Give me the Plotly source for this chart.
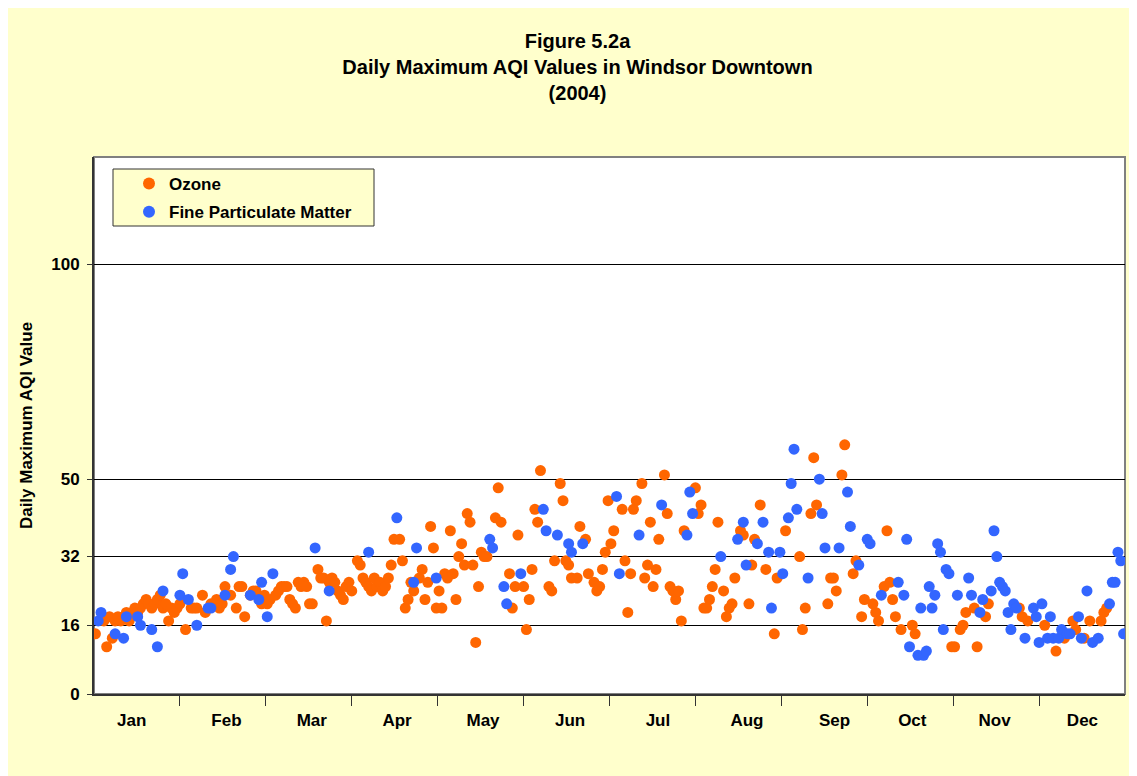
import plotly.graph_objects as go

# ---- data: (day of month, daily maximum AQI) ----
month_names = ["Jan", "Feb", "Mar", "Apr", "May", "Jun", "Jul", "Aug", "Sep", "Oct", "Nov", "Dec"]
month_start_day = [1, 32, 61, 92, 122, 153, 183, 214, 245, 275, 306, 336]  # 2004 (leap year)
# day-of-year where each month label sits
month_label_day = [13.9, 47.5, 77.8, 108.1, 138.6, 169.5, 200.7, 232.3, 263.4, 291.0, 320.2, 351.4]

oz_jan = [(1, 14), (4, 17), (5, 11), (6, 18), (7, 13), (8, 17), (9, 18), (10, 17), (11, 18), (12, 19), (13, 17),
          (14, 19), (15, 20), (16, 19), (17, 20), (18, 21), (19, 22), (20, 21), (21, 20), (22, 21), (23, 22),
          (24, 23), (25, 20), (26, 21), (27, 17), (28, 20), (29, 19), (30, 20), (31, 21)]
oz_feb = [(2, 15), (4, 20), (5, 20), (6, 20), (8, 23), (9, 19), (11, 21), (13, 22), (14, 20), (15, 21), (16, 25),
          (18, 23), (20, 20), (21, 25), (22, 25), (23, 18), (25, 23), (26, 24), (27, 24), (29, 21)]
oz_mar = [(1, 23), (2, 21), (3, 22), (5, 23), (6, 24), (7, 25), (8, 25), (9, 25), (10, 22), (11, 21), (12, 20),
          (13, 26), (14, 25), (15, 26), (16, 25), (17, 21), (18, 21), (20, 29), (21, 27), (22, 27), (23, 17),
          (24, 26), (25, 27), (26, 26), (27, 24), (28, 23), (29, 22), (30, 25), (31, 26)]
oz_apr = [(1, 24), (3, 31), (4, 30), (5, 27), (6, 26), (7, 25), (8, 24), (9, 27), (10, 25), (11, 26), (12, 24),
          (13, 25), (14, 27), (15, 30), (16, 36), (18, 36), (19, 31), (20, 20), (21, 22), (22, 26), (23, 24),
          (25, 27), (26, 29), (27, 22), (28, 26), (29, 39), (30, 34)]
oz_may = [(1, 20), (2, 24), (3, 20), (4, 28), (5, 27), (6, 38), (7, 28), (8, 22), (9, 32), (10, 35), (11, 30),
          (12, 42), (13, 40), (14, 30), (15, 12), (16, 25), (17, 33), (18, 32), (19, 32), (22, 41), (23, 48),
          (24, 40), (27, 28), (28, 20), (29, 25), (30, 37)]
oz_jun = [(1, 25), (2, 15), (3, 22), (4, 29), (5, 43), (6, 40), (7, 52), (10, 25), (11, 24), (12, 31), (14, 49),
          (15, 45), (16, 31), (17, 30), (18, 27), (20, 27), (21, 39), (23, 36), (24, 28), (26, 26), (27, 24),
          (28, 25), (29, 29), (30, 33)]
oz_jul = [(1, 45), (2, 35), (3, 38), (6, 43), (7, 31), (8, 19), (9, 28), (10, 43), (11, 45), (13, 49), (14, 27),
          (15, 30), (16, 40), (17, 25), (18, 29), (19, 36), (21, 51), (22, 42), (23, 25), (24, 24), (25, 22),
          (26, 24), (27, 17), (28, 38)]
oz_aug = [(1, 48), (2, 42), (3, 44), (4, 20), (5, 20), (6, 22), (7, 25), (8, 29), (9, 40), (11, 24), (12, 18),
          (13, 20), (14, 21), (15, 27), (17, 38), (18, 37), (20, 21), (21, 30), (22, 36), (24, 44), (26, 29),
          (29, 14), (30, 27)]
oz_sep = [(2, 38), (7, 32), (8, 15), (9, 20), (11, 42), (12, 55), (13, 44), (17, 21), (18, 27), (19, 27),
          (20, 24), (22, 51), (23, 58), (26, 28), (27, 31), (29, 18), (30, 22)]
oz_oct = [(3, 21), (4, 19), (5, 17), (7, 25), (8, 38), (9, 26), (10, 22), (11, 18), (13, 15), (17, 16), (18, 14),
          (31, 11)]
oz_nov = [(1, 11), (3, 15), (4, 16), (5, 19), (8, 20), (9, 11), (12, 18), (13, 21), (24, 20), (25, 18), (27, 17)]
oz_dec = [(3, 16), (7, 10), (10, 13), (13, 17), (14, 15), (17, 13), (19, 17), (23, 17), (24, 19), (25, 20)]

pm_jan = [(2, 17), (3, 19), (8, 14), (11, 13), (12, 18), (16, 18), (17, 16), (21, 15), (23, 11), (25, 24), (31, 23)]
pm_feb = [(1, 28), (3, 22), (6, 16), (10, 20), (11, 20), (16, 23), (18, 29), (19, 32), (25, 23), (28, 22), (29, 26)]
pm_mar = [(2, 18), (4, 28), (19, 34), (24, 24)]
pm_apr = [(7, 33), (17, 41), (23, 26), (24, 34)]
pm_may = [(1, 27), (20, 36), (21, 34), (25, 25), (26, 21), (31, 28)]
pm_jun = [(8, 43), (9, 38), (13, 37), (17, 35), (18, 33), (22, 35)]
pm_jul = [(4, 46), (5, 28), (12, 37), (20, 44), (29, 37), (30, 47), (31, 42)]
pm_aug = [(10, 32), (16, 36), (18, 40), (19, 30), (23, 35), (25, 40), (27, 33), (28, 20), (31, 33)]
pm_sep = [(1, 28), (3, 41), (4, 49), (5, 57), (6, 43), (10, 27), (14, 50), (15, 42), (16, 34), (21, 34),
          (24, 47), (25, 39), (28, 30)]
pm_oct = [(1, 36), (2, 35), (6, 23), (12, 26), (14, 23), (15, 36), (16, 11), (19, 9), (20, 20), (21, 9), (22, 10),
          (23, 25), (24, 20), (25, 23), (26, 35), (27, 33), (28, 15), (29, 29), (30, 28)]
pm_nov = [(2, 23), (6, 27), (7, 23), (10, 19), (11, 22), (14, 24), (15, 38), (16, 32), (17, 26), (18, 25),
          (19, 24), (20, 19), (21, 15), (22, 21), (23, 20), (26, 13), (29, 20), (30, 18)]
pm_dec = [(1, 12), (2, 21), (4, 13), (5, 18), (6, 13), (8, 13), (9, 15), (11, 14), (12, 14), (15, 18), (16, 13),
          (18, 24), (20, 12), (22, 13), (26, 21), (27, 26), (28, 26), (29, 33), (30, 31), (31, 14)]

ozone_months = [oz_jan, oz_feb, oz_mar, oz_apr, oz_may, oz_jun, oz_jul, oz_aug, oz_sep, oz_oct, oz_nov, oz_dec]
pm_months = [pm_jan, pm_feb, pm_mar, pm_apr, pm_may, pm_jun, pm_jul, pm_aug, pm_sep, pm_oct, pm_nov, pm_dec]

y_ticks = [0, 16, 32, 50, 100]


def to_year(months):
    xs, ys = [], []
    for start, pts in zip(month_start_day, months):
        for dom, v in pts:
            xs.append(start + dom - 1)
            ys.append(v)
    return xs, ys


oz_x, oz_y = to_year(ozone_months)
pm_x, pm_y = to_year(pm_months)

FONT = "Liberation Sans, Arial, sans-serif"
YELLOW = "#FFFFCC"

fig = go.Figure()
fig.add_trace(go.Scatter(x=oz_x, y=oz_y, mode="markers", name="Ozone", legendgroup="a",
                         marker=dict(color="#FF6600", size=11, line=dict(width=0))))
fig.add_trace(go.Scatter(x=pm_x, y=pm_y, mode="markers", name="Fine Particulate Matter", legendgroup="b",
                         marker=dict(color="#3366FF", size=11, line=dict(width=0))))

# month boundary tick marks, equally spaced across the year
seg = 366 / 12
bounds = [0.5 + seg * k for k in range(1, 12)]

W, H = 1129, 768
L, R, T, B = 86, 12, 149, 82
pw, ph = W - L - R, H - T - B
OFF = 8  # page offset of the figure in the screenshot


def sx(x):  # screenshot x -> paper x
    return (x - OFF - L) / pw


def sy(y):  # screenshot y -> paper y
    return (H - B - (y - OFF)) / ph


fig.update_layout(
    width=W, height=H,
    margin=dict(l=L, r=R, t=T, b=B, pad=0),
    paper_bgcolor=YELLOW,
    plot_bgcolor="white",
    font=dict(family=FONT, size=17, color="black", weight="bold"),
    title=dict(text="Figure 5.2a<br>Daily Maximum AQI Values in Windsor Downtown<br>(2004)",
               x=(577.5 - OFF) / W, xanchor="center", y=1 - 40 / H, yanchor="middle",
               font=dict(family=FONT, size=20, color="black", weight="bold")),
    showlegend=True,
    legend=dict(x=sx(129), y=sy(166), xanchor="left", yanchor="top",
                bgcolor="rgba(0,0,0,0)", borderwidth=0, tracegroupgap=3,
                font=dict(family=FONT, size=17, color="black", weight="bold"),
                itemsizing="constant"),
    xaxis=dict(range=[0.5, 366.5], tickmode="array", tickvals=month_label_day, ticktext=month_names,
               ticks="", showgrid=False, zeroline=False, showline=True, linecolor="#333333",
               linewidth=2, ticklabelstandoff=10,
               tickfont=dict(family=FONT, size=17, color="black", weight="bold"),
               minor=dict(tickmode="array", tickvals=bounds, ticks="outside", ticklen=10,
                          tickwidth=1, tickcolor="#333333", showgrid=False)),
    yaxis=dict(range=[0, 125], tickmode="array", tickvals=y_ticks, ticks="outside", ticklen=5,
               tickcolor="#333333", showgrid=True, gridcolor="black", gridwidth=1, zeroline=False,
               showline=True, linecolor="#333333", linewidth=2, ticklabelstandoff=4,
               tickfont=dict(family=FONT, size=17, color="black", weight="bold"),
               title=dict(text="Daily Maximum AQI Value", standoff=14,
                          font=dict(family=FONT, size=17, color="black", weight="bold"))),
    shapes=[
        dict(type="rect", xref="paper", yref="paper", x0=0, x1=1, y0=0, y1=1,
             fillcolor="white", line=dict(color="#808080", width=2), layer="below"),
        dict(type="rect", xref="paper", yref="paper", x0=sx(113), x1=sx(374), y0=sy(226), y1=sy(169),
             fillcolor=YELLOW, line=dict(color="#333333", width=1), layer="below"),
    ],
)

fig.write_html("out.html")
